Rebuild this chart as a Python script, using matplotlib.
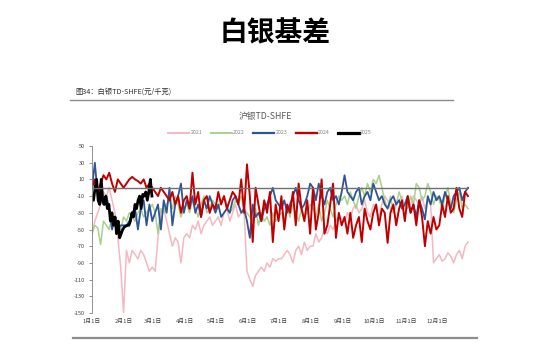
import numpy as np
import matplotlib
matplotlib.use('Agg')
import matplotlib.pyplot as plt
from matplotlib.lines import Line2D

plt.rcParams['font.family'] = ['Noto Sans CJK SC', 'DejaVu Sans']

# x axis: day of year, ticks at the first of each month
month_days = [0, 31, 59, 90, 120, 151, 181, 212, 243, 273, 304, 334]
month_labels = ['1月1日', '2月1日', '3月1日', '4月1日', '5月1日', '6月1日',
                '7月1日', '8月1日', '9月1日', '10月1日', '11月1日', '12月1日']
y_ticks = [-150, -130, -110, -90, -70, -50, -30, -10, 10, 30, 50]

# basis values (yuan/kg), roughly every 2 trading days
v2021 = [-55, -40, -30, -20, -5, -10, 0, -15, -30, -60, -95,
         -150, -75, -90, -75, -80, -85, -75, -80, -90, -100, -95,
         -100, -60, -30, -25, -40, -55, -70, -60, -65, -90, -60,
         -55, -60, -45, -50, -40, -55, -45, -40, -35, -45, -40,
         -35, -45, -30, -25, -40, -30, -20, -35, -30, -30, -100,
         -110, -118, -105, -100, -95, -100, -90, -95, -85, -88, -85,
         -85, -80, -75, -80, -90, -75, -70, -80, -65, -75, -70,
         -70, -55, -65, -60, -50, -55, -45, -50, -40, -35, -38,
         -40, -30, -35, -25, -20, -30, -25, -15, -30, -35, -20,
         -25, -35, -20, -10, -15, -25, -30, -20, -15, -10, -25,
         -15, -20, -10, -15, -20, -10, -25, -15, -20, -90, -85,
         -80, -88, -85, -78, -82, -90, -80, -75, -85, -70, -65]
v2022 = [-55, -45, -48, -68, -40, -45, -50, -35, -45, -40, -50,
         -35, -40, -30, -35, -40, -30, -25, -35, -30, -25, -20,
         -30, -55, -25, -30, -20, -15, -25, -10, -20, -35, -25,
         -20, -30, -15, -25, -35, -20, -10, -30, -25, -15, -20,
         -25, -15, -10, -20, -30, -25, -15, -20, -10, -25, -30,
         -35, -40, -25, -45, -30, -40, -35, -45, -30, -40, -35,
         -30, -40, -25, -35, -20, -30, -40, -25, -35, -30, -20,
         -25, -35, -20, -40, -30, -15, -25, -35, -20, -10, -15,
         -10, -20, -5, -15, -25, -10, 0, -10, 5, -5, 10,
         5, 15, 0, -15, -25, -10, -30, -20, -5, -15, -20,
         -25, -10, -20, 5, 0, -15, -10, 5, -5, -20, -10,
         -15, -25, -10, 0, -20, -30, -15, -5, -25, -20, -25]
v2023 = [0, 30, -10, -15, -20, -10, -25, -50, -35, -50, -45,
         -45, -45, -40, -30, -25, -50, -25, -15, -45, -20, -40,
         -30, -20, -50, -15, -30, 0, -45, -20, -10, 5, -30,
         -15, -25, -10, -30, -20, -35, -15, -25, -10, -20, -30,
         -20, -35, -30, -25, -30, -15, -10, -20, -30, -25, -40,
         -60, -20, -35, -30, -40, -25, -20, -10, 0, -15, -20,
         -25, -15, -30, -20, -10, 0, -15, -25, -20, -10, 5,
         0, -15, 5, -10, -20, -5, 0, -15, -10, -20, -5,
         15, -5, -10, -15, -5, 0, -20, -10, -5, -15, 5,
         -5, -15, -10, -20, -25, -15, -10, -20, -15, -25, -20,
         -10, -30, -20, -35, -15, -25, -38, -10, -20, -5, -15,
         -10, -20, -5, -15, -25, -10, -5, 0, -15, -5, 0]
v2024 = [0, 10, -5, 5, 15, 10, 18, 5, -5, 10, 5,
         0, 5, 10, 13, 10, 8, 5, 10, 0, 5, 0,
         -5, -10, 0, -5, -10, -15, -5, -20, -10, -30, -15,
         -10, -25, 18, -20, -5, -35, -15, -10, -30, -20, -25,
         -5, -20, -10, -25, -15, -5, -10, -20, 10, -30, 28,
         -10, -65, 0, -20, -40, -15, -30, -5, -65, -20, -40,
         -10, -50, -20, -30, -5, -45, 5, -25, -40, -15, -55,
         0, -50, -30, 10, -55, -45, -20, 5, -60, -30, -45,
         -35, -55, -30, -60, -45, -35, -65, -25, -40, -50, -30,
         -20, -45, -25, -30, -66, -30, -20, -45, -25, -15, -40,
         -10, -30, -20, -45, -15, -35, -70, -40, -55, -35, -50,
         -45, -20, -35, -10, -30, -25, 0, -25, -35, -5, -10]
v2025 = [-10, -15, 0, 10, -15, -20, 10, -15, -20, -10, -25, -20, -40,
         -30, -45, -35, -55, -40, -60, -55, -50, -47, -46, -45, -45, -40,
         -30, -35, -20, -25, -15, -10, -25, -8, -10, -5, -15, -5, 10, -10]

series = [('2021', v2021, 364, '#f4b8c1', 1.1),
          ('2022', v2022, 364, '#a9d18e', 1.1),
          ('2023', v2023, 364, '#2f5597', 1.3),
          ('2024', v2024, 364, '#c00000', 1.4),
          ('2025', v2025, 58, '#000000', 2.0)]

fig = plt.figure(figsize=(5.5, 3.57), dpi=100)
ax = fig.add_axes([92 / 550, 1 - 313 / 357, 377 / 550, 167 / 357])

handles = []
for name, vals, last_day, color, lw in series:
    x = np.linspace(0, last_day, len(vals))
    ax.plot(x, vals, color=color, lw=lw)
    handles.append(Line2D([], [], color=color, lw=lw + 0.3, label=name))

ax.axhline(0, color='#6f6f6f', lw=1.0)
ax.set_xlim(0, 365)
ax.set_ylim(-150, 50)
ax.set_yticks(y_ticks)
ax.set_yticklabels([str(t) for t in y_ticks], fontsize=4, color='#404040')
ax.set_xticks(month_days)
ax.set_xticklabels(month_labels, fontsize=4.2, color='#404040')
ax.tick_params(axis='x', length=0, pad=4)
ax.tick_params(axis='y', length=2, width=0.6, color='#808080', pad=3)
for s in ['top', 'right', 'bottom']:
    ax.spines[s].set_visible(False)
ax.spines['left'].set_color('#808080')
ax.spines['left'].set_linewidth(0.6)

fig.legend(handles=handles, loc='center', bbox_to_anchor=(270 / 550, 1 - 133 / 357),
           ncol=5, frameon=False, fontsize=3.8, handlelength=4, columnspacing=1.6,
           handletextpad=0.2, labelcolor='#808080')

fig.text(275 / 550, 1 - 33 / 357, '白银基差', ha='center', va='center',
         fontsize=20, fontweight='bold', color='black')
fig.text(75 / 550, 1 - 92 / 357, '图34：白银TD-SHFE(元/千克)', ha='left', va='center',
         fontsize=5.2, color='#303030')
fig.text(265 / 550, 1 - 117 / 357, '沪银TD-SHFE', ha='center', va='center',
         fontsize=6.3, color='#595959')
fig.add_artist(Line2D([70 / 550, 453 / 550], [1 - 100 / 357, 1 - 100 / 357],
                      color='#8c8c8c', lw=1.0))
fig.add_artist(Line2D([73 / 550, 477 / 550], [1 - 338 / 357, 1 - 338 / 357],
                      color='#8c8c8c', lw=1.6))

fig.savefig('out.png', dpi=100)
